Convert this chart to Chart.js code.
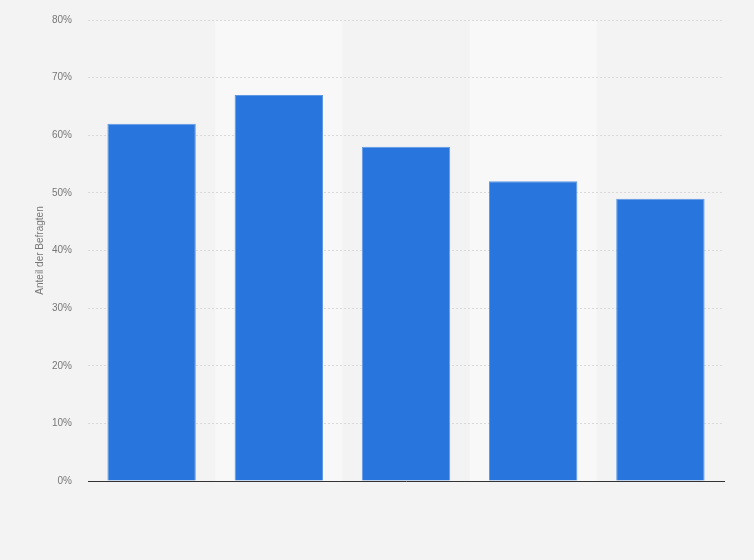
<!DOCTYPE html>
<html lang="de">
<head>
<meta charset="utf-8">
<title>Anteil der Befragten</title>
<script src="https://cdn.jsdelivr.net/npm/chart.js@4/dist/chart.umd.min.js"></script>
<style>
  html, body { margin: 0; padding: 0; background: #f3f3f3; }
  #wrap { width: 754px; height: 560px; }
</style>
</head>
<body>
<div id="wrap"><canvas id="myChart" width="754" height="560"></canvas></div>
<script>
  'use strict';

  // Data (category names are not shown in the picture)
  const categories = ['Gruppe 1', 'Gruppe 2', 'Gruppe 3', 'Gruppe 4', 'Gruppe 5'];
  const shares = [62, 67, 58, 52, 49];
  const yTicks = [0, 10, 20, 30, 40, 50, 60, 70, 80];

  // Lighter background bands behind every second category
  const bandPlugin = {
    id: 'bands',
    beforeDraw(chart) {
      const { ctx, chartArea, scales } = chart;
      const step = (chartArea.right - chartArea.left) / categories.length;
      ctx.save();
      ctx.fillStyle = '#f8f8f8';
      categories.forEach((c, i) => {
        if (i % 2 === 1) {
          const cx = scales.x.getPixelForValue(i);
          ctx.fillRect(cx - step / 2, chartArea.top, step, chartArea.bottom - chartArea.top);
        }
      });
      ctx.restore();
    }
  };

  const ctx = document.getElementById('myChart');
  // eslint-disable-next-line no-unused-vars
  const myChart = new Chart(ctx, {
    type: 'bar',
    data: {
      labels: categories,
      datasets: [{
        data: shares,
        backgroundColor: '#2876dd',
        borderColor: '#5f99e6',
        borderWidth: 1,
        categoryPercentage: 1,
        barPercentage: 0.695
      }]
    },
    plugins: [bandPlugin],
    options: {
      responsive: false,
      animation: false,
      layout: {
        padding: { left: 0, right: 30, top: 20, bottom: 79 }
      },
      plugins: {
        legend: { display: false },
        tooltip: { enabled: false }
      },
      scales: {
        x: {
          grid: { display: false, drawTicks: false },
          ticks: { display: false },
          border: { color: '#333333', width: 1 },
          afterFit(scale) { scale.height = 0; }
        },
        y: {
          min: 0,
          max: 80,
          afterBuildTicks(scale) {
            scale.ticks = yTicks.map(v => ({ value: v }));
          },
          afterFit(scale) {
            scale.width = 88;
            scale.paddingTop = 0;
            scale.paddingBottom = 0;
          },
          grid: {
            color: '#d9d9d9',
            drawTicks: false
          },
          border: { display: false, dash: [2, 2] },
          ticks: {
            padding: 16,
            color: '#777777',
            font: { family: 'Liberation Sans', size: 10 },
            callback: v => v + '%'
          },
          title: {
            display: true,
            text: 'Anteil der Befragten',
            color: '#777777',
            font: { family: 'Liberation Sans', size: 10 },
            padding: { top: 34, bottom: 0 }
          }
        }
      }
    }
  });
</script>
</body>
</html>
